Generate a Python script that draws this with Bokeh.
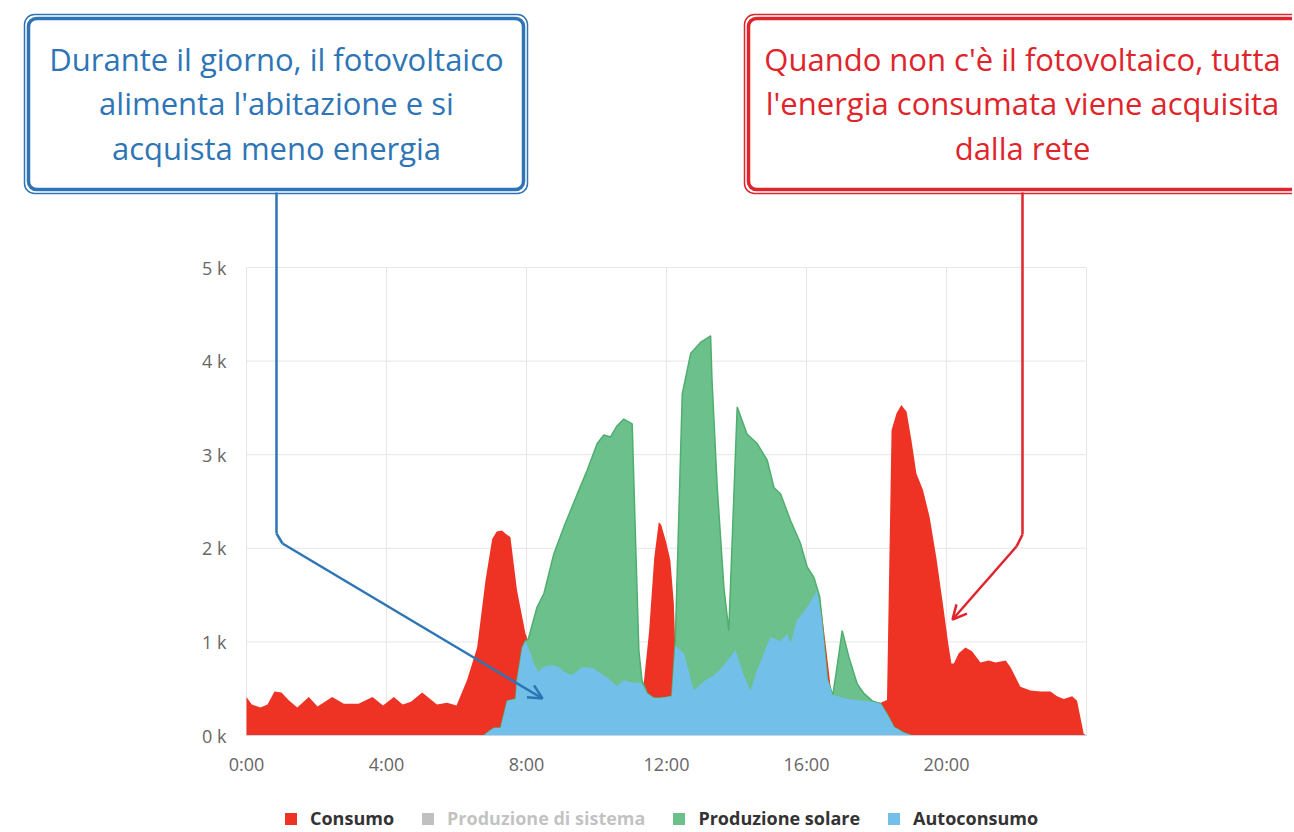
from bokeh.plotting import figure
from bokeh.models import (Range1d, FixedTicker, Legend, LegendItem, BoxAnnotation,
                          Label, Arrow, OpenHead)
from bokeh.embed import file_html
from bokeh.resources import INLINE

# ---------------- data (hours, W) ----------------
ore_consumo = [0.0, 0.15, 0.4, 0.6, 0.8, 1.0, 1.2, 1.45, 1.78, 2.03, 2.45, 2.78, 3.2, 3.6,
               3.9, 4.21, 4.46, 4.7, 5.02, 5.44, 5.73, 6.0, 6.3, 6.59, 6.83, 7.02, 7.15,
               7.3, 7.42, 7.54, 7.73, 7.97, 8.05, 8.12, 8.21, 8.34, 8.5, 8.78, 8.91, 9.16,
               9.3, 9.45, 9.58, 9.73, 9.9, 10.05, 10.3, 10.59, 10.78, 11.05, 11.2, 11.35,
               11.5, 11.65, 11.78, 11.85, 12.0, 12.11, 12.21, 12.25, 12.5, 12.78, 13.07,
               13.35, 13.59, 13.74, 13.97, 14.21, 14.4, 14.59, 14.78, 14.97, 15.26, 15.45,
               15.54, 15.73, 16.02, 16.21, 16.3, 16.43, 16.59, 16.7, 16.78, 16.9, 17.2,
               17.6, 17.9, 18.12, 18.3, 18.43, 18.57, 18.71, 18.86, 19.0, 19.14, 19.33,
               19.52, 19.71, 19.91, 20.05, 20.14, 20.21, 20.35, 20.54, 20.73, 20.97, 21.21,
               21.4, 21.69, 21.83, 22.11, 22.4, 22.69, 22.97, 23.16, 23.35, 23.59, 23.73,
               23.92, 24.0]
consumo = [410, 330, 300, 330, 470, 460, 380, 300, 410, 310, 410, 340, 340, 410,
           320, 410, 330, 360, 460, 330, 350, 320, 590, 940, 1660, 2100, 2180,
           2190, 2150, 2120, 1550, 1090, 1010, 880, 770, 680, 740, 750, 730, 660,
           650, 690, 730, 730, 720, 680, 620, 530, 590, 560, 570, 560,
           1100, 1900, 2280, 2250, 2050, 1870, 1410, 960, 880, 480, 580,
           640, 730, 800, 910, 640, 480, 700, 880, 1050, 1010, 1090,
           980, 1230, 1370, 1490, 1550, 1340, 840, 480, 450, 420, 390,
           370, 360, 350, 380, 3260, 3440, 3530, 3460, 3150, 2800, 2620,
           2330, 1900, 1370, 980, 770, 770, 880, 940, 900, 780, 800,
           780, 800, 730, 520, 480, 470, 470, 420, 390, 420, 370,
           20, 0]

ore_solare = [6.78, 6.95, 7.07, 7.26, 7.45, 7.69, 7.73, 7.88, 7.97, 8.05, 8.3, 8.5, 8.78,
              9.07, 9.45, 9.73, 10.02, 10.21, 10.4, 10.59, 10.78, 11.02, 11.11, 11.21,
              11.3, 11.45, 11.64, 11.83, 12.0, 12.15, 12.25, 12.45, 12.69, 12.97, 13.26,
              13.3, 13.45, 13.64, 13.78, 14.02, 14.3, 14.59, 14.88, 15.07, 15.26, 15.54,
              15.83, 16.02, 16.21, 16.38, 16.45, 16.6, 16.75, 16.86, 17.02, 17.21, 17.45,
              17.64, 17.88, 18.12, 18.3, 18.5, 18.78, 19.0]
produzione_solare = [0, 50, 80, 80, 370, 390, 590, 940, 1010, 1030, 1370, 1520, 1940,
                     2230, 2580, 2830, 3120, 3210, 3190, 3310, 3380, 3330, 2160, 910,
                     590, 450, 400, 400, 410, 420, 1000, 3650, 4080, 4200, 4270,
                     3800, 2650, 1580, 1120, 3510, 3220, 3120, 2940, 2650, 2580, 2300,
                     2050, 1800, 1690, 1480, 1200, 600, 430, 700, 1120, 840, 550,
                     450, 370, 340, 230, 90, 30, 0]

ore_autoconsumo = [6.78, 6.95, 7.07, 7.26, 7.45, 7.69, 7.73, 7.88, 7.97, 8.12, 8.21, 8.34,
                   8.5, 8.78, 8.91, 9.16, 9.3, 9.45, 9.58, 9.73, 9.9, 10.05, 10.3, 10.59,
                   10.78, 11.05, 11.2, 11.3, 11.45, 11.64, 11.83, 12.0, 12.15, 12.25, 12.5,
                   12.78, 13.07, 13.35, 13.59, 13.74, 13.97, 14.21, 14.4, 14.59, 14.78,
                   14.97, 15.26, 15.45, 15.54, 15.73, 16.02, 16.21, 16.3, 16.43, 16.6,
                   16.75, 16.9, 17.2, 17.6, 17.9, 18.12, 18.3, 18.5, 18.78, 19.0]
autoconsumo = [0, 50, 80, 80, 370, 390, 590, 940, 1010, 880, 770, 680,
               740, 750, 730, 660, 650, 690, 730, 730, 720, 680, 620, 530,
               590, 560, 570, 550, 450, 400, 400, 410, 420, 960, 880,
               480, 580, 640, 730, 800, 910, 640, 480, 700, 880,
               1050, 1010, 1090, 980, 1230, 1370, 1490, 1550, 1260, 600,
               430, 420, 390, 370, 360, 340, 230, 90, 30, 0]

# "Produzione di sistema" is switched off (hidden series) in the chart
ore_sistema = ore_solare
produzione_sistema = produzione_solare

tick_ore = [0, 4, 8, 12, 16, 20, 24]
etichette_ore = ["0:00", "4:00", "8:00", "12:00", "16:00", "20:00", ""]
tick_potenza = [0, 1000, 2000, 3000, 4000, 5000]
etichette_potenza = ["0 k", "1 k", "2 k", "3 k", "4 k", "5 k"]

serie_nomi = ["Consumo", "Produzione di sistema", "Produzione solare", "Autoconsumo"]

testo_blu = ["Durante il giorno, il fotovoltaico", "alimenta l'abitazione e si",
             "acquista meno energia"]
testo_rosso = ["Quando non c'è il fotovoltaico, tutta", "l'energia consumata viene acquisita",
               "dalla rete"]

# ---------------- styling ----------------
RED = "#ee3224"
GREEN = "#6cc08b"
GREEN_LINE = "#4fae6f"
BLUE = "#72c0ea"
GREY = "#2d2d2d"
CALL_BLUE = "#2e75b6"
CALL_RED = "#e0242b"
FONT = "Open Sans"

W, H = 1292, 830
# chart area on the canvas (pixels): hours 0..24 -> 246..1086, W 0..5000 -> 735..267
CL, CR, CT, CB = 246, 1086, 267, 735
XA, XB, YA, YB = 0, 24, 0, 5000
kx = (CR - CL) / (XB - XA)
ky = (CB - CT) / (YB - YA)
x_start, x_end = XA - CL / kx, XA + (W - CL) / kx
y_start, y_end = YA - (H - CB) / ky, YA + CB / ky


def dx(px):  # page pixel -> hours
    return XA + (px - CL) / kx


def dy(py):  # page pixel -> W
    return YA + (CB - py) / ky


p = figure(width=W, height=H, output_backend="svg", toolbar_location=None,
           x_range=Range1d(x_start, x_end), y_range=Range1d(y_start, y_end),
           min_border=0)
p.title.visible = False
p.outline_line_color = None
p.background_fill_color = "white"
p.xgrid.visible = False
p.ygrid.visible = False

# grid lines limited to the chart area
p.segment(x0=tick_ore, y0=YA, x1=tick_ore, y1=YB, line_color="#e6e6e6", line_width=1)
p.segment(x0=XA, y0=tick_potenza, x1=XB, y1=tick_potenza, line_color="#e6e6e6", line_width=1)

r_cons = p.varea(x=ore_consumo, y1=0, y2=consumo, fill_color=RED)
r_sis = p.varea(x=ore_sistema, y1=0, y2=produzione_sistema, fill_color=GREY)
r_sis.visible = False
r_sol = p.varea(x=ore_solare, y1=0, y2=produzione_solare, fill_color=GREEN)
p.line(ore_solare, produzione_solare, line_color=GREEN_LINE, line_width=1.5)
r_auto = p.varea(x=ore_autoconsumo, y1=0, y2=autoconsumo, fill_color=BLUE)

# axes, pinned to the chart area
p.xaxis.fixed_location = YA
p.yaxis.fixed_location = XA
p.xaxis.bounds = (XA, XB)
p.yaxis.bounds = (YA, YB)
p.xaxis.ticker = FixedTicker(ticks=tick_ore)
p.xaxis.major_label_overrides = dict(zip(tick_ore, etichette_ore))
p.yaxis.ticker = FixedTicker(ticks=tick_potenza)
p.yaxis.major_label_overrides = dict(zip(tick_potenza, etichette_potenza))
for ax in (p.xaxis, p.yaxis):
    ax.major_tick_line_color = None
    ax.minor_tick_line_color = None
    ax.major_label_text_font = FONT
    ax.major_label_text_font_size = "18px"
    ax.major_label_text_color = "#666666"
p.xaxis.axis_line_color = "#c8d4e2"
p.yaxis.axis_line_color = None
p.xaxis.major_label_standoff = 10
p.yaxis.major_label_standoff = 14

# legend
legend = Legend(items=[LegendItem(label=serie_nomi[0], renderers=[r_cons]),
                       LegendItem(label=serie_nomi[1], renderers=[r_sis]),
                       LegendItem(label=serie_nomi[2], renderers=[r_sol]),
                       LegendItem(label=serie_nomi[3], renderers=[r_auto])],
                orientation="horizontal", location=(283, 0), click_policy="hide",
                glyph_width=15, glyph_height=15, label_standoff=12, spacing=26,
                padding=3, margin=0, border_line_color=None, background_fill_alpha=0,
                label_text_font=FONT, label_text_font_size="18px",
                label_text_font_style="bold", label_text_color="#333333",
                inactive_fill_color="white", inactive_fill_alpha=0.7)
p.add_layout(legend)

# callout boxes
for (l, r, col) in [(24, 527, CALL_BLUE), (744, 1310, CALL_RED)]:
    p.add_layout(BoxAnnotation(left=dx(l), right=dx(r), top=dy(14), bottom=dy(193),
                               fill_color=None, line_color=col, line_alpha=1.0,
                               line_width=1.5, border_radius=10))
    p.add_layout(BoxAnnotation(left=dx(l + 4), right=dx(r - 4), top=dy(18), bottom=dy(189),
                               fill_color=None, line_color=col, line_alpha=1.0,
                               line_width=3.5, border_radius=8))

for i, (tb, tr) in enumerate(zip(testo_blu, testo_rosso)):
    yy = dy(58 + 44.5 * i)
    p.add_layout(Label(x=dx(276), y=yy, text=tb, text_align="center", text_baseline="middle",
                       text_font=FONT, text_font_size="31px", text_color=CALL_BLUE))
    p.add_layout(Label(x=dx(1022), y=yy, text=tr, text_align="center", text_baseline="middle",
                       text_font=FONT, text_font_size="31px", text_color=CALL_RED))

# connectors
segs = [
    (CALL_BLUE, [(276, 192), (276, 533), (282, 543)], (542, 698)),
    (CALL_RED, [(1022, 192), (1022, 534), (1016, 546)], (952, 619)),
]
for col, pts, tip in segs:
    for (a, b) in zip(pts[:-1], pts[1:]):
        p.add_layout(Arrow(x_start=dx(a[0]), y_start=dy(a[1]), x_end=dx(b[0]), y_end=dy(b[1]),
                           end=None, line_color=col, line_width=2.5))
    a = pts[-1]
    p.add_layout(Arrow(x_start=dx(a[0]), y_start=dy(a[1]), x_end=dx(tip[0]), y_end=dy(tip[1]),
                       end=OpenHead(size=14, line_color=col, line_width=2.5),
                       line_color=col, line_width=2.5))

open("out.html", "w").write(file_html(p, INLINE))
